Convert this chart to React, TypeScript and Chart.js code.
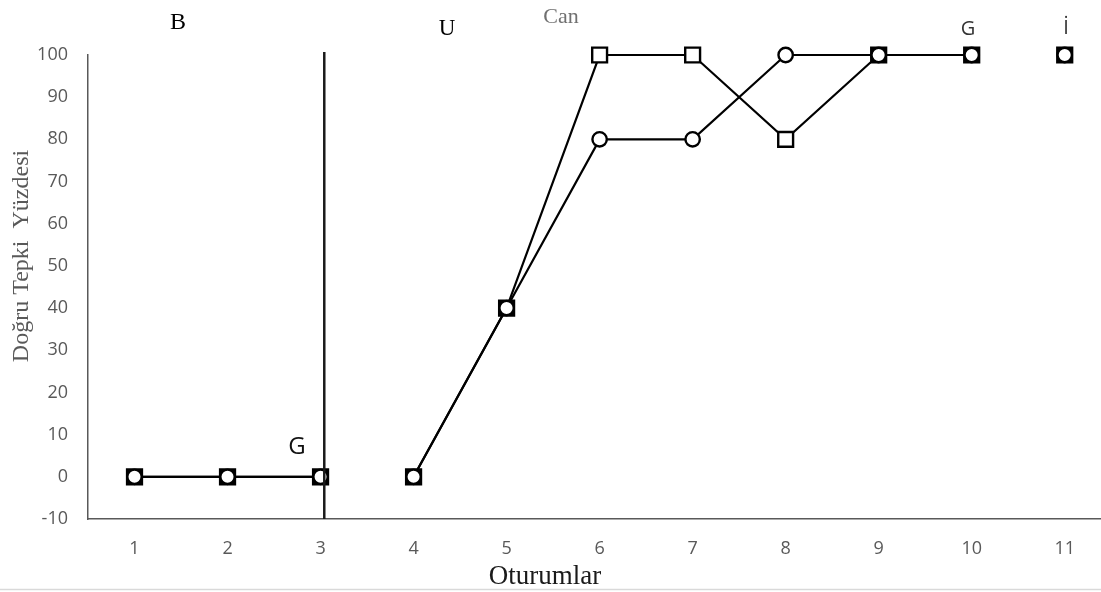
import React, { useEffect, useRef } from "react";
import { Chart, registerables } from "chart.js";

Chart.register(...registerables);

// Sessions (Oturumlar)
const SESSIONS = [1, 2, 3, 4, 5, 6, 7, 8, 9, 10, 11];
// Phase of each session (lines are not joined across phases)
const PHASES = [1, 1, 1, 2, 2, 2, 2, 2, 2, 2, 3];
// Circle series (% correct)
const CIRCLE_VALUES = [0, 0, 0, 0, 40, 80, 80, 100, 100, 100, 100];
// Square series (% correct)
const SQUARE_VALUES = [0, 0, 0, 0, 40, 100, 100, 80, 100, 100, 100];
// Y axis range
const Y_MIN = -10;
const Y_MAX = 100;
const Y_STEP = 10;
// Phase change line position (x value)
const PHASE_LINE_X = 3.04;

const Y_TITLE = "Doğru Tepki  Yüzdesi";
const X_TITLE = "Oturumlar";

const W = 1101;
const H = 592;

export default function App() {
  const ref = useRef<HTMLCanvasElement | null>(null);

  useEffect(() => {
    if (!ref.current) return;

    const segColor = (ctx: any) =>
      PHASES[ctx.p0DataIndex] !== PHASES[ctx.p1DataIndex] ? "rgba(0,0,0,0)" : "#000";

    const squareFill = SQUARE_VALUES.map((v, i) => (v === CIRCLE_VALUES[i] ? "#000" : "#fff"));

    const annotations = {
      id: "annotations",
      afterDraw(chart: any) {
        const c = chart.ctx;
        const area = chart.chartArea;
        const xs = chart.scales.x;
        c.save();
        // phase line
        const px = xs.getPixelForValue(PHASE_LINE_X);
        c.strokeStyle = "#1a1a1a";
        c.lineWidth = 2.5;
        c.beginPath();
        c.moveTo(px, area.top - 3);
        c.lineTo(px, area.bottom);
        c.stroke();

        // bottom frame line
        c.strokeStyle = "#d9d9d9";
        c.lineWidth = 1.5;
        c.beginPath();
        c.moveTo(0, 589.5);
        c.lineTo(W, 589.5);
        c.stroke();

        c.textAlign = "center";
        c.textBaseline = "middle";
        const txt = (s: string, x: number, y: number, font: string, color: string) => {
          c.font = font;
          c.fillStyle = color;
          c.fillText(s, x, y);
        };
        txt("B", 178, 23, "24px 'Liberation Serif'", "#000");
        txt("U", 447, 29, "23px 'Liberation Serif'", "#000");
        txt("Can", 561, 17, "22px 'Liberation Serif'", "#707070");
        txt("G", 968, 29, "20px 'Open Sans'", "#333");
        txt("İ", 1066, 28, "20px 'Open Sans'", "#333");
        txt("G", 297, 447, "24px 'Open Sans'", "#111");
        txt(X_TITLE, 545, 577, "27px 'Liberation Serif'", "#1a1a1a");

        c.translate(22, 256);
        c.rotate(-Math.PI / 2);
        txt(Y_TITLE, 0, 0, "24px 'Liberation Serif'", "#595959");
        c.restore();
      },
    };

    const chart = new Chart(ref.current, {
      type: "line",
      data: {
        datasets: [
          {
            label: "circle",
            data: SESSIONS.map((s, i) => ({ x: s, y: CIRCLE_VALUES[i] })),
            borderColor: "#000",
            borderWidth: 2.2,
            pointStyle: "circle",
            pointRadius: 7.2,
            pointBorderWidth: 2.4,
            pointBackgroundColor: "#fff",
            pointBorderColor: "#000",
            segment: { borderColor: segColor },
            clip: false,
            order: 0,
          },
          {
            label: "square",
            data: SESSIONS.map((s, i) => ({ x: s, y: SQUARE_VALUES[i] })),
            borderColor: "#000",
            borderWidth: 2.2,
            pointStyle: "rect",
            pointRadius: 10.5,
            pointBorderWidth: 2.4,
            pointBackgroundColor: squareFill,
            pointBorderColor: "#000",
            segment: { borderColor: segColor },
            clip: false,
            order: 1,
          },
        ],
      },
      options: {
        animation: false,
        responsive: false,
        layout: { autoPadding: false, padding: { top: 55, right: 0, left: 0, bottom: 0 } },
        plugins: {
          legend: { display: false },
          tooltip: { enabled: false },
          title: { display: false },
        },
        scales: {
          x: {
            type: "linear",
            min: 0.5,
            max: 11.39,
            afterBuildTicks: (scale: any) => {
              scale.ticks = SESSIONS.map((v) => ({ value: v }));
            },
            afterFit: (scale: any) => {
              scale.height = H - 519;
              scale.paddingLeft = 0;
              scale.paddingRight = 0;
            },
            grid: { display: false, drawTicks: false },
            border: { display: true, color: "#595959", width: 1.5 },
            ticks: {
              padding: 19,
              color: "#595959",
              font: { family: "'Open Sans'", size: 18 },
              autoSkip: false,
              maxRotation: 0,
            },
          },
          y: {
            min: Y_MIN,
            max: Y_MAX,
            afterFit: (scale: any) => {
              scale.width = 88;
            },
            grid: { display: false, drawTicks: false },
            border: { display: true, color: "#595959", width: 1.5 },
            ticks: {
              stepSize: Y_STEP,
              padding: 20,
              color: "#595959",
              font: { family: "'Open Sans'", size: 18 },
            },
          },
        },
      },
      plugins: [annotations],
    });

    return () => chart.destroy();
  }, []);

  return (
    <div style={{ position: "absolute", left: 0, top: 0, width: W, height: H, background: "#fff" }}>
      <canvas ref={ref} width={W} height={H} style={{ display: "block" }} />
    </div>
  );
}
